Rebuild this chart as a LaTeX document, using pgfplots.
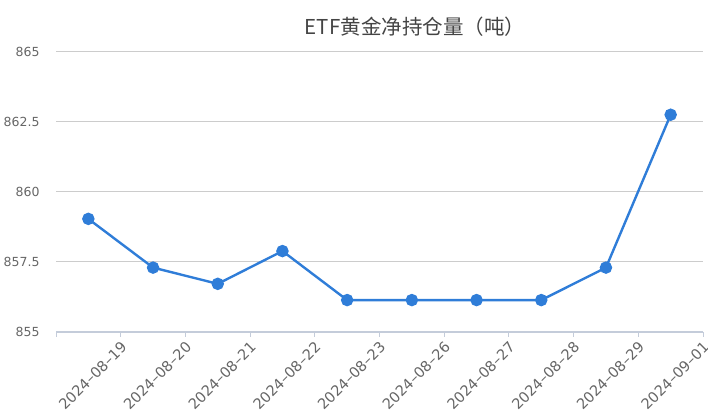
\documentclass[border=0pt]{standalone}
\usepackage{pgfplots}
\pgfplotsset{compat=1.18}
\usepackage{fontspec}
\setmainfont{Noto Sans CJK SC}
\newfontfamily\tickfont{DejaVu Sans}
\definecolor{linec}{RGB}{47,125,216}
\definecolor{gridc}{RGB}{204,204,204}
\definecolor{axisc}{RGB}{196,204,218}
\definecolor{labc}{RGB}{102,102,102}
\definecolor{titc}{RGB}{68,68,68}

\begin{document}
\begin{tikzpicture}[x=1pt,y=1pt]
\path[use as bounding box] (0,0) rectangle (708,414);
\begin{axis}[scale only axis,
    at={(56pt,82pt)}, anchor=south west,
    width=647pt, height=280pt,
    xmin=-0.5, xmax=9.5,
    ymin=855, ymax=865,
    ytick={855,857.5,860,862.5,865},
    yticklabels={855,857.5,860,862.5,865},
    xtick={-0.5,0.5,...,9.5},
    xticklabels={,2024–08–19,2024–08–20,2024–08–21,2024–08–22,2024–08–23,2024–08–26,2024–08–27,2024–08–28,2024–08–29,2024–09–01},
    xticklabel style={rotate=45, anchor=north east, font=\tickfont\fontsize{14.5}{17}\selectfont, text=labc, inner sep=1pt, yshift=-1pt, xshift=-2pt},
    yticklabel style={font=\tickfont\fontsize{12.5}{15}\selectfont, text=labc, xshift=-8pt},
    ymajorgrids, grid style={gridc, line width=1pt},
    axis x line*=bottom, axis y line*=left,
    y axis line style={draw=none},
    x axis line style={axisc, line width=1.2pt, -},
    xtick style={axisc, line width=1pt},
    major tick length=5pt,
    xtick pos=bottom, tick align=outside,
    ytick style={draw=none},
    clip=false,
]
\addplot[linec, line width=2.4pt, mark=*, mark size=5pt, mark options={fill=linec, draw=linec}] coordinates {
(0,859.04) (1,857.3) (2,856.72) (3,857.89) (4,856.14) (5,856.14) (6,856.14) (7,856.14) (8,857.3) (9,862.76)
};
\end{axis}
\node[text=titc, font=\fontsize{20.5}{23}\selectfont] at (415,387) {ETF黄金净持仓量（吨）};
\end{tikzpicture}
\end{document}
